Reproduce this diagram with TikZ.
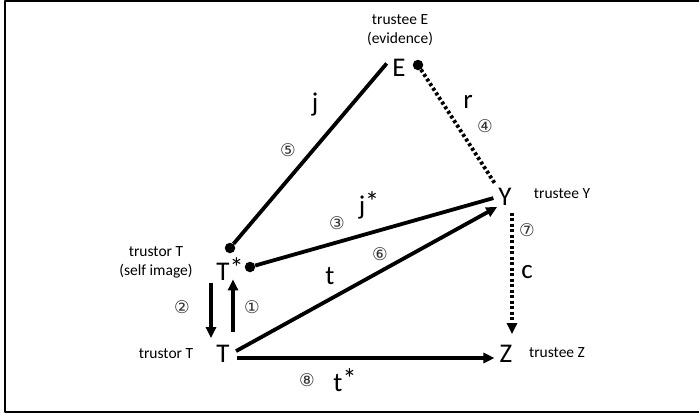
\documentclass[tikz,border=0pt]{standalone}
\usepackage{fontspec}
\setmainfont{Carlito}
\newfontfamily\circfont{DejaVu Sans}
\usetikzlibrary{arrows.meta}

\newcommand{\starmark}{\rlap{\smash{\raisebox{3pt}{\fontsize{28}{28}\selectfont *}}}}

\begin{document}
\begin{tikzpicture}[
    x=1pt, y=-1pt,
    line join=round,
    bigletter/.style={
        inner sep=1pt,
        font=\fontsize{27}{30}\selectfont
    },
    smalltext/.style={
        inner sep=0pt,
        align=center,
        font=\fontsize{15.5}{19}\selectfont
    },
    circnum/.style={
        inner sep=0pt,
        text=black!80,
        font=\circfont\fontsize{17.5}{17.5}\selectfont
    },
    solidline/.style={line width=3.8pt},
    dotline/.style={line width=3.8pt, dash pattern=on 3pt off 2.5pt},
    tip/.style={-{Triangle[length=11pt,width=10pt]}},
    blackdot/.style={circle, fill=black, inner sep=0pt, minimum size=10.5pt}
]
    \useasboundingbox (0,0) rectangle (699,415);
    \draw[line width=2pt] (712,1) -- (5,1) -- (5,412) -- (712,412);

    % main letters
    \node[bigletter] (E) at (399,68) {E};
    \node[bigletter] (Ts) at (223,272) {T\starmark};
    \node[bigletter] (T) at (223,354) {T};
    \node[bigletter] (Y) at (505,197) {Y};
    \node[bigletter] (Z) at (506,354) {Z};

    \node[blackdot] (Edot) at (418,65) {};
    \node[blackdot] (Tsup) at (230,248) {};
    \node[blackdot] (Tsright) at (250,267) {};

    % side texts
    \node[smalltext] (lblE) at (400,30.5) {trustee E\\(evidence)};
    \node[smalltext] (lblTs) at (156,262.5) {trustor T\\(self image)};
    \node[smalltext] (lblT) at (166,354) {trustor T};
    \node[smalltext] (lblY) at (562,194) {trustee Y};
    \node[smalltext] (lblZ) at (557,353) {trustee Z};

    % connectors
    \draw[solidline, shorten >=7pt] (Tsup) -- (E.north west);
    \draw[dotline, shorten >=5pt] (Edot) -- (Y.north west);
    \draw[solidline, shorten >=4pt] (Tsright) -- (Y.west);
    \draw[solidline, tip, shorten <=6pt] (T.east) -- (Y.south west);
    \draw[solidline, tip, shorten <=6pt, shorten >=4pt]
        ([yshift=-4pt]T.east) -- ([yshift=-4pt]Z.west);
    \draw[dotline, tip, shorten <=6pt, shorten >=10pt]
        ([xshift=7pt]Y.south) -- ([xshift=6pt]Z.north);
    \draw[solidline, tip, shorten <=1pt, shorten >=6pt]
        ([xshift=-12pt]Ts.south) -- ([xshift=-12pt]T.north);
    \draw[solidline, tip, shorten <=12pt, shorten >=-2.5pt]
        ([xshift=10pt]T.north) -- ([xshift=10pt]Ts.south);

    % edge letters
    \node[bigletter] (j) at (315,105) {j};
    \node[bigletter] (r) at (468,102) {r};
    \node[bigletter] (js) at (362,208) {j\starmark};
    \node[bigletter] (t) at (330,276) {t};
    \node[bigletter] (c) at (527,272) {c};
    \node[bigletter] (ts) at (338,383) {t\starmark};

    \foreach \g/\px/\py [count=\i] in {①/252/307, ②/182/307, ③/337/223,
        ④/485/126, ⑤/288/150, ⑥/380/254, ⑦/527/230, ⑧/307/380}
        \node[circnum] (num\i) at (\px,\py) {\g};

\end{tikzpicture}
\end{document}
